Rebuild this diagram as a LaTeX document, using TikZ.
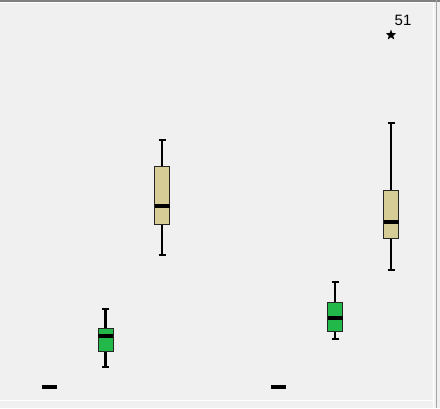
\documentclass[tikz,border=0pt]{standalone}
\usepackage{fontspec}
\setmainfont{Liberation Sans}
\usetikzlibrary{shapes.geometric}
\definecolor{panelgray}{HTML}{F0F0F0}
\definecolor{boxgreen}{HTML}{22B84A}
\definecolor{boxtan}{HTML}{D6CD96}
\begin{document}
\begin{tikzpicture}
  [x=1pt, y=-1pt,
   whisker/.style={line width=2.2pt},
   boxframe/.style={draw=black!85, line width=1pt},
   median/.style={line width=3.2pt},
   outlier/.style={star, star points=5, star point ratio=2.4, fill=black, inner sep=0pt, minimum size=11pt},
   caselabel/.style={font=\fontsize{15}{15}\selectfont, inner sep=0pt}]
  % panel
  \fill[panelgray] (0,0) rectangle (440,408);
  \useasboundingbox (0,0) rectangle (440,408);
  \draw[gray, line width=1.5pt] (0,0.75) -- (440,0.75);
  \draw[white, line width=1pt] (0,2.5) -- (434,2.5);
  \draw[white, line width=1pt] (433.5,2.5) -- (433.5,408);
  \draw[gray!70, line width=1.5pt] (436.5,0) -- (436.5,408);
  \draw[white, line width=0.8pt] (0,400) -- (434,400);
  % boxes: centre / upper whisker / q3 / median / q1 / lower whisker / colour
  \foreach \cx/\wt/\qt/\md/\qb/\wb/\col in
     {105.5/309/328/336/351/367/boxgreen,
      162/140/166/206/224/255/boxtan,
      335/282/302/318/331/339/boxgreen,
      391/123/190/222/238/270/boxtan}
  {
    \draw[whisker] (\cx,\wt) -- (\cx,\qt) (\cx,\qb) -- (\cx,\wb);
    \draw[whisker] (\cx-3.5,\wt) -- (\cx+3.5,\wt) (\cx-3.5,\wb) -- (\cx+3.5,\wb);
    \filldraw[boxframe, fill=\col] (\cx-7.5,\qt) rectangle (\cx+7.5,\qb);
    \draw[median] (\cx-7.5,\md) -- (\cx+7.5,\md);
  }
  % flat groups
  \foreach \cx in {49.5, 278}
    \draw[median] (\cx-7.5,387) -- (\cx+7.5,387);
  % extreme case
  \node[outlier] (case51) at (391,35) {};
  \node[caselabel, anchor=south west] (lab51) at (394.5,26) {51};
\end{tikzpicture}
\end{document}
